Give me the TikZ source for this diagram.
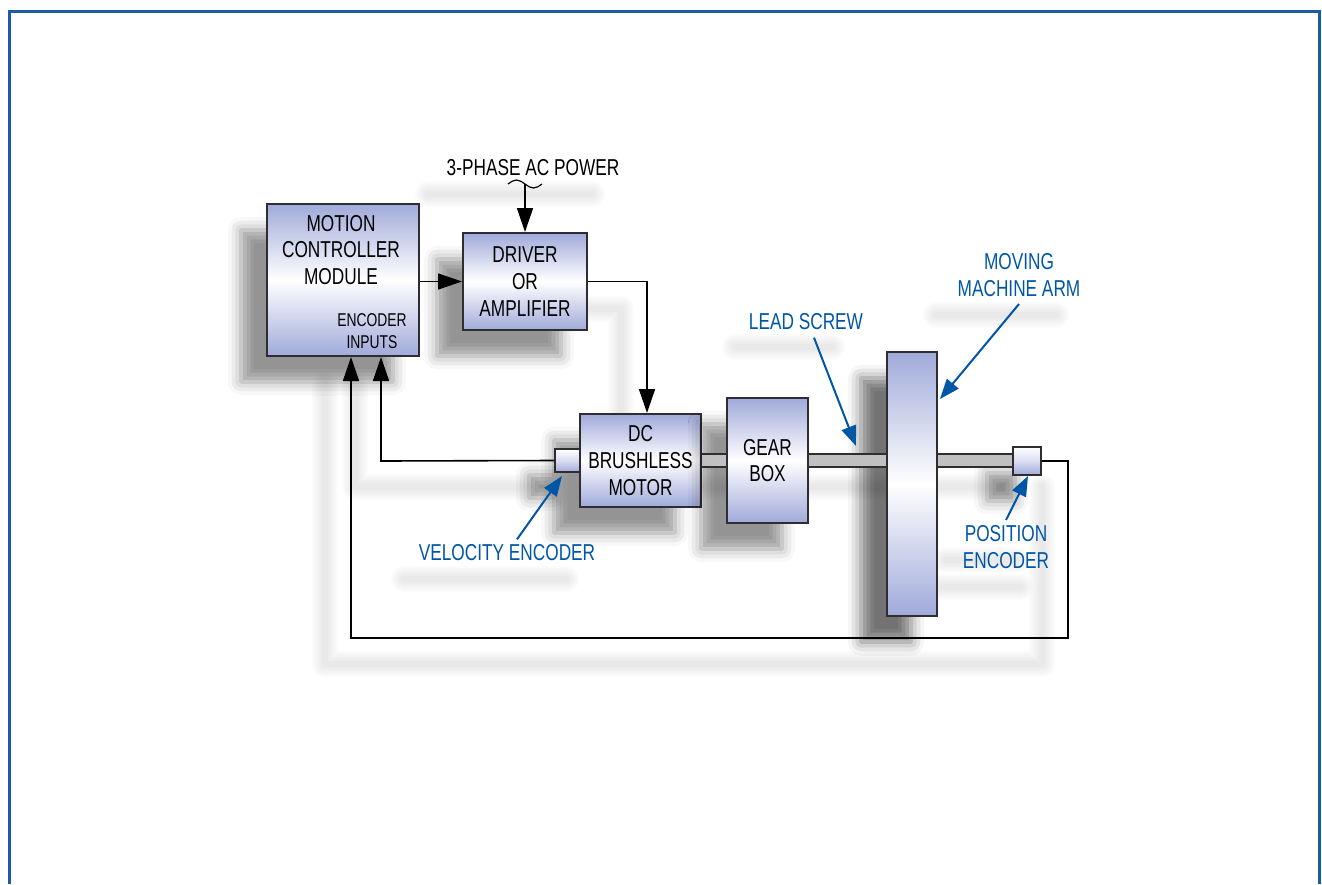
\documentclass[tikz,border=0pt]{standalone}
\usepackage{fontspec}
\setmainfont{Liberation Sans}[FakeStretch=0.75]
\usetikzlibrary{arrows.meta,shadows.blur,positioning}
\definecolor{frameblue}{RGB}{26,92,166}
\definecolor{lblblue}{RGB}{0,86,166}
\definecolor{boxblue}{RGB}{160,170,218}
\definecolor{boxline}{RGB}{45,45,50}
\definecolor{shaftgray}{RGB}{192,192,192}
\tikzset{
  unit/.style={draw=boxline, line width=2pt, top color=boxblue, bottom color=boxblue, middle color=white,
    inner sep=0pt, align=center, font=\fontsize{23}{26.7}\selectfont,
    blur shadow={shadow xshift=-26pt, shadow yshift=-26pt, shadow blur radius=13pt, shadow opacity=42}},
  sensor/.style={unit, top color=white, bottom color=boxblue, middle color=white!60!boxblue},
  sig/.style={line width=1.6pt, -{Triangle[length=24pt,width=16pt]}},
  lbl/.style={text=lblblue, align=center, font=\fontsize{23}{26.7}\selectfont},
  pointer/.style={draw=lblblue, line width=2pt, -{Triangle[length=20pt,width=15pt]}},
  ghost/.style={gray, line cap=round, line join=round, opacity=0.03}
}
\begin{document}
\begin{tikzpicture}[x=1pt,y=-1pt]
\useasboundingbox (0,0) rectangle (1322,884);
% frame
\draw[frameblue, line width=3pt] (9.5,884) -- (9.5,11.5) -- (1319.5,11.5) -- (1319.5,884);

% soft shadows of wires and labels
\foreach \w in {26,22,18,14,10,6} {
  \draw[ghost, line width=\w pt] (1042,487) -- (1042,664) -- (325,664) -- (325,384);
  \draw[ghost, line width=\w pt] (529,487) -- (355,487) -- (355,384);
  \draw[ghost, line width=\w pt] (562,309) -- (621,309) -- (621,420);
  \draw[ghost, line width=\w pt] (690,487) -- (1010,487);
  \draw[ghost, line width=\w pt] (428,194) -- (592,194);
  \draw[ghost, line width=\w pt] (735,347) -- (832,347);
  \draw[ghost, line width=\w pt] (936,315) -- (1056,315);
  \draw[ghost, line width=\w pt] (404,579) -- (566,579);
  \draw[ghost, line width=\w pt] (946,560) -- (1016,560);
  \draw[ghost, line width=\w pt] (942,587) -- (1020,587);
}

% units
\node[unit, minimum width=152pt, minimum height=152pt] (mcm) at (343,280) {};
\node[font=\fontsize{23}{26.7}\selectfont, align=center] (mcmtxt) at (341,250) {MOTION\\CONTROLLER\\MODULE};
\node[font=\fontsize{18.5}{22}\selectfont, align=center] (encin) at (372,331) {ENCODER\\INPUTS};
\node[unit, minimum width=124pt, minimum height=97pt] (driver) at (525,281.5) {DRIVER\\OR\\AMPLIFIER};
\node[unit, minimum width=121pt, minimum height=93pt] (motor) at (640.5,460.5) {DC\\BRUSHLESS\\MOTOR};
\node[sensor, minimum width=25pt, minimum height=23pt] (velenc) at (567.5,460.5) {};
\node[unit, minimum width=81pt, minimum height=125pt] (gearbox) at (767.5,460.5) {GEAR\\BOX};
\node[unit, minimum width=50pt, minimum height=264pt, shadow opacity=55] (arm) at (912,484) {};
\node[sensor, minimum width=28pt, minimum height=28pt] (posenc) at (1027,461) {};

% shafts
\foreach \a/\b in {motor/gearbox, gearbox/arm, arm/posenc} {
  \fill[shaftgray] ([yshift=6.5pt]\a.east |- motor.center) rectangle ([yshift=-6.5pt]\b.west |- motor.center);
  \draw[boxline, line width=1.6pt] ([yshift=6.5pt]\a.east |- motor.center) -- ([yshift=6.5pt]\b.west |- motor.center);
  \draw[boxline, line width=1.6pt] ([yshift=-6.5pt]\a.east |- motor.center) -- ([yshift=-6.5pt]\b.west |- motor.center);
}

% power in
\node[font=\fontsize{23}{26.7}\selectfont] (acpow) at (533,168) {3-PHASE AC POWER};
\coordinate (acin) at (525,184);
\draw[line width=1.2pt] (508,184) sin (516.5,180) cos (525,184) sin (533.5,188) cos (542,184);
\draw[sig] (acin) -- (driver.north);

% signal path
\draw[sig] (mcm.east |- driver.west) -- (driver.west);
\coordinate (drvbend) at (647,281.5);
\draw[sig] (driver.east) -- (drvbend) -- (drvbend |- motor.north);

% feedback loops
\coordinate (velbend) at (381,461);
\draw[sig] (velenc.west) -- (velbend) -- (velbend |- mcm.south);
\coordinate (posright) at (1068,461);
\coordinate (posbottom) at (1068,638);
\coordinate (posleft) at (351,638);
\draw[sig] (posenc.east) -- (posright) -- (posbottom) -- (posleft) -- (posleft |- mcm.south);

% labels
\node[lbl] (leadlbl) at (806,322) {LEAD SCREW};
\node[lbl] (armlbl) at (1019,275) {MOVING\\MACHINE ARM};
\node[lbl] (vellbl) at (507,553) {VELOCITY ENCODER};
\node[lbl] (poslbl) at (1006,547) {POSITION\\ENCODER};
\coordinate (leadtip) at (856,446);
\coordinate (armtip) at (940,399);
\coordinate (veltip) at (562,476);
\coordinate (postip) at (1028,476);
\draw[pointer] ([xshift=8pt,yshift=-4pt]leadlbl.south) -- (leadtip);
\draw[pointer] ([yshift=-4pt]armlbl.south) -- (armtip);
\draw[pointer] ([xshift=10pt,yshift=2pt]vellbl.north) -- (veltip);
\draw[pointer] ([yshift=2pt]poslbl.north) -- (postip);
\end{tikzpicture}
\end{document}
